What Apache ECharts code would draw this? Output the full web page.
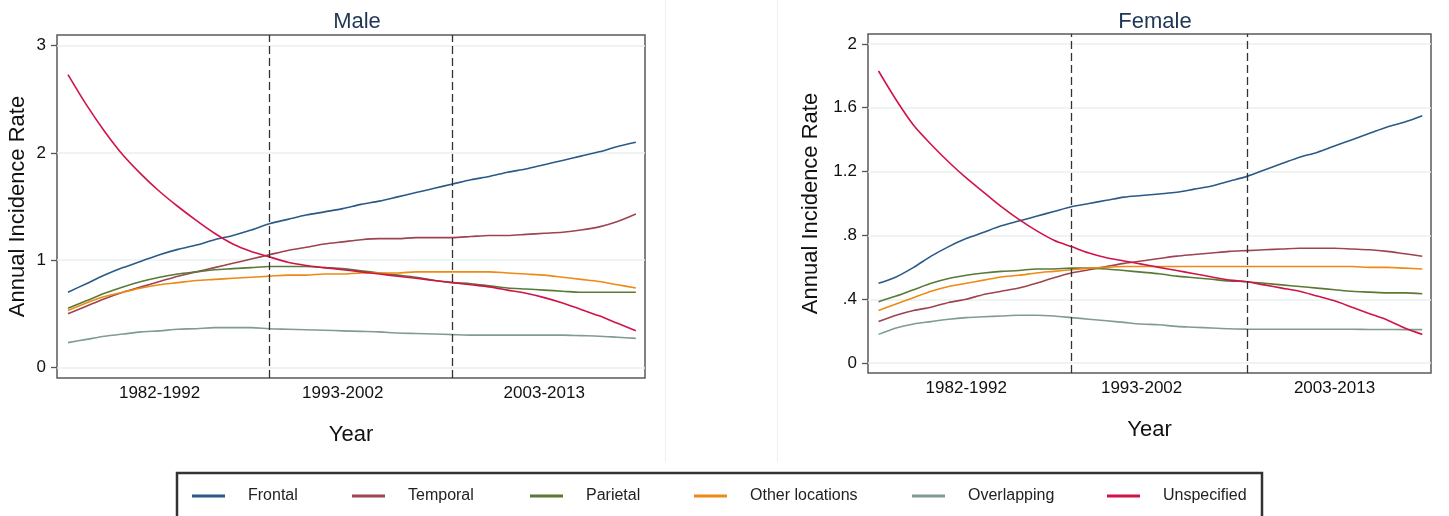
<!DOCTYPE html>
<html>
<head>
<meta charset="utf-8">
<title>Annual Incidence Rate by location</title>
<script src="https://cdn.jsdelivr.net/npm/echarts@6/dist/echarts.min.js"></script>
<style>
  html, body { margin: 0; padding: 0; background: #fff; }
  #chart { width: 1449px; height: 516px; }
</style>
</head>
<body>
<div id="chart"></div>
<script>
// years on the x axis
const years = [1982, 1983, 1984, 1985, 1986, 1987, 1988, 1989, 1990, 1991, 1992,
  1993, 1994, 1995, 1996, 1997, 1998, 1999, 2000, 2001, 2002,
  2003, 2004, 2005, 2006, 2007, 2008, 2009, 2010, 2011, 2012, 2013]

// period labels (placed at the middle of each period) and the break years
const periodLabels = ['1982-1992', '1993-2002', '2003-2013']
const periodCenters = [1987, 1997, 2008]
const breakYears = [1993, 2003]

const seriesNames = ['Frontal', 'Temporal', 'Parietal', 'Other locations', 'Overlapping', 'Unspecified']

// Male
const maleFrontal = [0.70, 0.78, 0.86, 0.93, 0.99, 1.05, 1.10, 1.14, 1.19, 1.23, 1.28,
  1.34, 1.38, 1.42, 1.45, 1.48, 1.52, 1.55, 1.59, 1.63, 1.67,
  1.71, 1.75, 1.78, 1.82, 1.85, 1.89, 1.93, 1.97, 2.01, 2.06, 2.10]
const maleTemporal = [0.50, 0.57, 0.64, 0.70, 0.75, 0.80, 0.85, 0.89, 0.93, 0.97, 1.01,
  1.05, 1.09, 1.12, 1.15, 1.17, 1.19, 1.20, 1.20, 1.21, 1.21,
  1.21, 1.22, 1.23, 1.23, 1.24, 1.25, 1.26, 1.28, 1.31, 1.36, 1.43]
const maleParietal = [0.55, 0.62, 0.69, 0.75, 0.80, 0.84, 0.87, 0.89, 0.91, 0.92, 0.93,
  0.94, 0.94, 0.94, 0.93, 0.92, 0.90, 0.88, 0.86, 0.84, 0.81,
  0.79, 0.78, 0.76, 0.74, 0.73, 0.72, 0.71, 0.70, 0.70, 0.70, 0.70]
const maleOther = [0.53, 0.60, 0.66, 0.70, 0.74, 0.77, 0.79, 0.81, 0.82, 0.83, 0.84,
  0.85, 0.86, 0.86, 0.87, 0.87, 0.88, 0.88, 0.88, 0.89, 0.89,
  0.89, 0.89, 0.89, 0.88, 0.87, 0.86, 0.84, 0.82, 0.80, 0.77, 0.74]
const maleOverlapping = [0.23, 0.26, 0.29, 0.31, 0.33, 0.34, 0.355, 0.36, 0.37, 0.37, 0.37,
  0.36, 0.355, 0.35, 0.345, 0.34, 0.335, 0.33, 0.32, 0.315, 0.31,
  0.305, 0.30, 0.30, 0.30, 0.30, 0.30, 0.30, 0.295, 0.29, 0.28, 0.27]
const maleUnspecified = [2.73, 2.45, 2.20, 1.98, 1.80, 1.64, 1.50, 1.37, 1.25, 1.15, 1.08,
  1.03, 0.98, 0.95, 0.93, 0.91, 0.89, 0.87, 0.85, 0.83, 0.81,
  0.79, 0.77, 0.75, 0.72, 0.69, 0.65, 0.60, 0.54, 0.48, 0.41, 0.34]

// Female
const femaleFrontal = [0.50, 0.54, 0.60, 0.67, 0.73, 0.78, 0.82, 0.86, 0.89, 0.92, 0.95,
  0.98, 1.00, 1.02, 1.04, 1.05, 1.06, 1.07, 1.09, 1.11, 1.14,
  1.17, 1.21, 1.25, 1.29, 1.32, 1.36, 1.40, 1.44, 1.48, 1.51, 1.55]
const femaleTemporal = [0.26, 0.30, 0.33, 0.35, 0.38, 0.40, 0.43, 0.45, 0.47, 0.50, 0.535,
  0.565, 0.585, 0.605, 0.625, 0.64, 0.655, 0.67, 0.68, 0.69, 0.70,
  0.705, 0.71, 0.715, 0.72, 0.72, 0.72, 0.715, 0.71, 0.70, 0.685, 0.67]
const femaleParietal = [0.385, 0.42, 0.46, 0.50, 0.53, 0.55, 0.565, 0.575, 0.58, 0.59, 0.59,
  0.595, 0.595, 0.59, 0.58, 0.57, 0.56, 0.545, 0.535, 0.525, 0.515,
  0.51, 0.50, 0.49, 0.48, 0.47, 0.46, 0.45, 0.445, 0.44, 0.44, 0.435]
const femaleOther = [0.33, 0.37, 0.41, 0.45, 0.48, 0.50, 0.52, 0.54, 0.55, 0.565, 0.575,
  0.585, 0.595, 0.60, 0.605, 0.605, 0.605, 0.605, 0.605, 0.605, 0.605,
  0.605, 0.605, 0.605, 0.605, 0.605, 0.605, 0.605, 0.60, 0.60, 0.595, 0.59]
const femaleOverlapping = [0.18, 0.22, 0.245, 0.26, 0.275, 0.285, 0.29, 0.295, 0.30, 0.30, 0.295,
  0.285, 0.275, 0.265, 0.255, 0.245, 0.24, 0.23, 0.225, 0.22, 0.215,
  0.213, 0.212, 0.212, 0.212, 0.212, 0.212, 0.212, 0.211, 0.211, 0.21, 0.21]
const femaleUnspecified = [1.83, 1.65, 1.49, 1.37, 1.26, 1.16, 1.07, 0.98, 0.90, 0.83, 0.77,
  0.73, 0.69, 0.66, 0.64, 0.62, 0.60, 0.58, 0.56, 0.54, 0.52,
  0.51, 0.49, 0.47, 0.45, 0.42, 0.39, 0.35, 0.31, 0.27, 0.22, 0.18]

// y tick labels
const maleTicks = [0, 1, 2, 3]
const femaleTicks = [0, 0.4, 0.8, 1.2, 1.6, 2]

const colors = ['#2b5a88', '#9c4450', '#587a35', '#ee8a14', '#7f9c92', '#d01448']
const FONT = 'Liberation Sans, Arial, sans-serif'

const maleData = [maleFrontal, maleTemporal, maleParietal, maleOther, maleOverlapping, maleUnspecified]
const femaleData = [femaleFrontal, femaleTemporal, femaleParietal, femaleOther, femaleOverlapping, femaleUnspecified]

// Stata style: .4 instead of 0.4
function stataNum(v) {
  const s = String(Math.round(v * 10) / 10)
  return s.indexOf('0.') === 0 ? s.slice(1) : s
}

function xAxisFor(gridIndex) {
  return {
    type: 'value',
    gridIndex: gridIndex,
    min: 1981.4,
    max: 2013.5,
    name: 'Year',
    nameLocation: 'middle',
    nameGap: 46,
    nameTextStyle: { fontSize: 22, color: '#111', fontFamily: FONT },
    axisLine: { show: false },
    axisTick: { show: false },
    splitLine: { show: false },
    axisLabel: {
      customValues: periodCenters,
      margin: 7,
      fontSize: 17,
      color: '#111',
      fontFamily: FONT,
      formatter: function (v) {
        const i = periodCenters.indexOf(Math.round(v))
        return i >= 0 ? periodLabels[i] : ''
      }
    }
  }
}

function yAxisFor(gridIndex, min, max, ticks, nameGap) {
  return {
    type: 'value',
    gridIndex: gridIndex,
    min: min,
    max: max,
    name: 'Annual Incidence Rate',
    nameLocation: 'middle',
    nameGap: nameGap,
    nameTextStyle: { fontSize: 22, color: '#111', fontFamily: FONT },
    axisLine: { show: false },
    axisTick: { show: true, customValues: ticks, length: 6, lineStyle: { color: '#555', width: 1.3 } },
    splitLine: { show: true, lineStyle: { color: '#e8f0f1', width: 1.5 } },
    axisLabel: {
      customValues: ticks,
      margin: 11,
      fontSize: 17,
      color: '#111',
      fontFamily: FONT,
      formatter: stataNum
    }
  }
}

function panelSeries(data, idx) {
  return data.map(function (vals, k) {
    const s = {
      name: seriesNames[k],
      type: 'line',
      xAxisIndex: idx,
      yAxisIndex: idx,
      smooth: 0.3,
      showSymbol: false,
      symbol: 'none',
      color: colors[k],
      lineStyle: { width: 1.6, color: colors[k] },
      data: years.map(function (y, i) { return [y, vals[i]] })
    }
    if (k === 0) {
      s.markLine = {
        silent: true,
        symbol: 'none',
        label: { show: false },
        lineStyle: { type: [8, 4], color: '#333', width: 1.3 },
        data: breakYears.map(function (b) { return { xAxis: b } })
      }
    }
    return s
  })
}

// one legend block per item so the spacing follows the reference
const legendLefts = [192, 352, 530, 694, 912, 1107]
const legends = seriesNames.map(function (n, k) {
  return {
    data: [n],
    left: legendLefts[k],
    top: 488,
    padding: 0,
    icon: 'rect',
    itemWidth: 33,
    itemHeight: 3,
    selectedMode: false,
    formatter: '{t|{name}}',
    textStyle: {
      fontSize: 16,
      color: '#222',
      fontFamily: FONT,
      rich: { t: { padding: [0, 0, 0, 18], fontSize: 16, color: '#222', fontFamily: FONT } }
    }
  }
})

const myChart = echarts.init(document.getElementById('chart'))
myChart.setOption({
  animation: false,
  backgroundColor: '#fff',
  title: [
    { text: 'Male', left: 352, top: 6, textAlign: 'center', textStyle: { fontSize: 22, fontWeight: 'normal', color: '#1e3555', fontFamily: FONT } },
    { text: 'Female', left: 1150, top: 6, textAlign: 'center', textStyle: { fontSize: 22, fontWeight: 'normal', color: '#1e3555', fontFamily: FONT } }
  ],
  grid: [
    { left: 57, top: 35, width: 588, height: 343, show: true, borderColor: '#5a5a5a', borderWidth: 1.5, backgroundColor: 'transparent' },
    { left: 868, top: 34, width: 563, height: 339, show: true, borderColor: '#5a5a5a', borderWidth: 1.5, backgroundColor: 'transparent' }
  ],
  xAxis: [xAxisFor(0), xAxisFor(1)],
  yAxis: [
    yAxisFor(0, -0.1, 3.1, maleTicks, 28),
    yAxisFor(1, -0.062, 2.062, femaleTicks, 46)
  ],
  legend: legends,
  graphic: [
    { type: 'rect', silent: true, shape: { x: 177, y: 473, width: 1085, height: 60 }, style: { fill: 'none', stroke: '#333', lineWidth: 2.5 } },
    { type: 'line', silent: true, shape: { x1: 665.5, y1: 0, x2: 665.5, y2: 462 }, style: { stroke: '#efefef', lineWidth: 1 } },
    { type: 'line', silent: true, shape: { x1: 777.5, y1: 0, x2: 777.5, y2: 462 }, style: { stroke: '#efefef', lineWidth: 1 } }
  ],
  series: panelSeries(maleData, 0).concat(panelSeries(femaleData, 1))
})
</script>
</body>
</html>
